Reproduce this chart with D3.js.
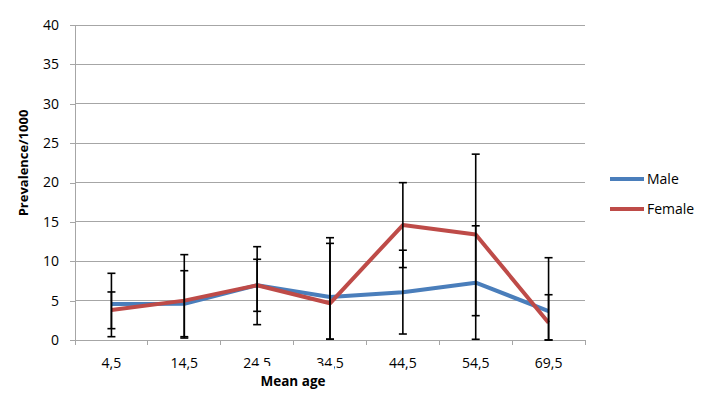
<!DOCTYPE html>
<html><head><meta charset="utf-8">
<script src="https://cdn.jsdelivr.net/npm/d3@7"></script>
<style>body{margin:0;background:#fff}svg{display:block;font-family:"Open Sans",sans-serif}</style>
</head><body><svg id="c" width="703" height="401"></svg>
<script>
const categories = ["4,5","14,5","24,5","34,5","44,5","54,5","69,5"];
const male = [4.57, 4.6, 6.95, 5.46, 6.05, 7.28, 3.68];
const female = [3.8, 5.0, 6.95, 4.66, 14.6, 13.4, 2.2];
const maleHigh = [8.47, 8.8, 10.25, 12.27, 11.4, 14.5, 5.75];
const maleLow = [0.42, 0.42, 3.64, 0.1, 0.76, 0.09, 0];
const femaleHigh = [6.1, 10.84, 11.85, 12.99, 19.98, 23.6, 10.45];
const femaleLow = [1.44, 0.25, 1.95, 0.1, 9.2, 3.09, 0];
const yTicks = [0,5,10,15,20,25,30,35,40];

const svg = d3.select("#c");
const L = 75, R = 585, T = 25, B = 340;
const x = d3.scaleBand().domain(categories).range([L, R]);
const y = d3.scaleLinear().domain([0, 40]).range([B, T]);
const cx = c => x(c) + x.bandwidth() / 2;
const grid = "#a6a6a6";
const FONT = '"Open Sans",sans-serif';

// gridlines
svg.append("g").selectAll("line").data(yTicks.filter(d => d > 0)).join("line")
  .attr("x1", L).attr("x2", R).attr("y1", d => y(d)).attr("y2", d => y(d))
  .attr("stroke", grid).attr("stroke-width", 1).attr("shape-rendering", "crispEdges");

// y axis
const ya = svg.append("g").attr("transform", `translate(${L},0)`)
  .call(d3.axisLeft(y).tickValues(yTicks).tickSize(5).tickPadding(11));
ya.select(".domain").attr("stroke", grid).attr("shape-rendering", "crispEdges");
ya.selectAll(".tick line").attr("stroke", grid).attr("shape-rendering", "crispEdges");
ya.selectAll("text").attr("font-size", 14).attr("fill", "#000").attr("font-family", FONT);

// x axis
const xa = svg.append("g").attr("transform", `translate(0,${B})`)
  .call(d3.axisBottom(x).tickSize(0).tickPadding(18));
xa.select(".domain").attr("stroke", grid).attr("shape-rendering", "crispEdges");
xa.selectAll("text").attr("font-size", 14).attr("fill", "#000").attr("font-family", FONT);
// x tick marks at band boundaries
svg.append("g").selectAll("line").data(d3.range(categories.length + 1)).join("line")
  .attr("x1", i => L + i * x.bandwidth()).attr("x2", i => L + i * x.bandwidth())
  .attr("y1", B).attr("y2", B + 5).attr("stroke", grid).attr("shape-rendering", "crispEdges");

// lines
const line = d3.line().x((d, i) => cx(categories[i])).y(d => y(d));
svg.append("path").datum(male).attr("d", line).attr("fill", "none")
  .attr("stroke", "#4a7ebb").attr("stroke-width", 4).attr("stroke-linejoin", "round");
svg.append("path").datum(female).attr("d", line).attr("fill", "none")
  .attr("stroke", "#be4b48").attr("stroke-width", 4).attr("stroke-linejoin", "round");

// error bars
function errbars(lo, hi) {
  const g = svg.append("g").attr("stroke", "#000").attr("stroke-width", 1.6);
  categories.forEach((c, i) => {
    const xx = cx(c);
    g.append("line").attr("x1", xx).attr("x2", xx).attr("y1", y(lo[i])).attr("y2", y(hi[i]));
    [lo[i], hi[i]].forEach(v => g.append("line").attr("x1", xx - 4).attr("x2", xx + 4)
      .attr("y1", y(v)).attr("y2", y(v)));
  });
}
errbars(maleLow, maleHigh);
errbars(femaleLow, femaleHigh);

// axis titles
svg.append("rect").attr("x", 252).attr("y", 366).attr("width", 82).attr("height", 26).attr("fill", "#fff");
svg.append("text").attr("x", 293).attr("y", 386).attr("text-anchor", "middle")
  .attr("font-size", 13.5).attr("font-weight", "bold").text("Mean age");
svg.append("text").attr("transform", "translate(27.5,163) rotate(-90)").attr("text-anchor", "middle")
  .attr("font-size", 13).attr("font-weight", "bold").text("Prevalence/1000");

// legend
const leg = [["Male", "#4a7ebb", 179], ["Female", "#be4b48", 209]];
leg.forEach(([t, col, yy]) => {
  svg.append("line").attr("x1", 610).attr("x2", 644).attr("y1", yy).attr("y2", yy)
    .attr("stroke", col).attr("stroke-width", 4);
  svg.append("text").attr("x", 647).attr("y", yy + 5).attr("font-size", 14).text(t);
});
</script></body></html>
